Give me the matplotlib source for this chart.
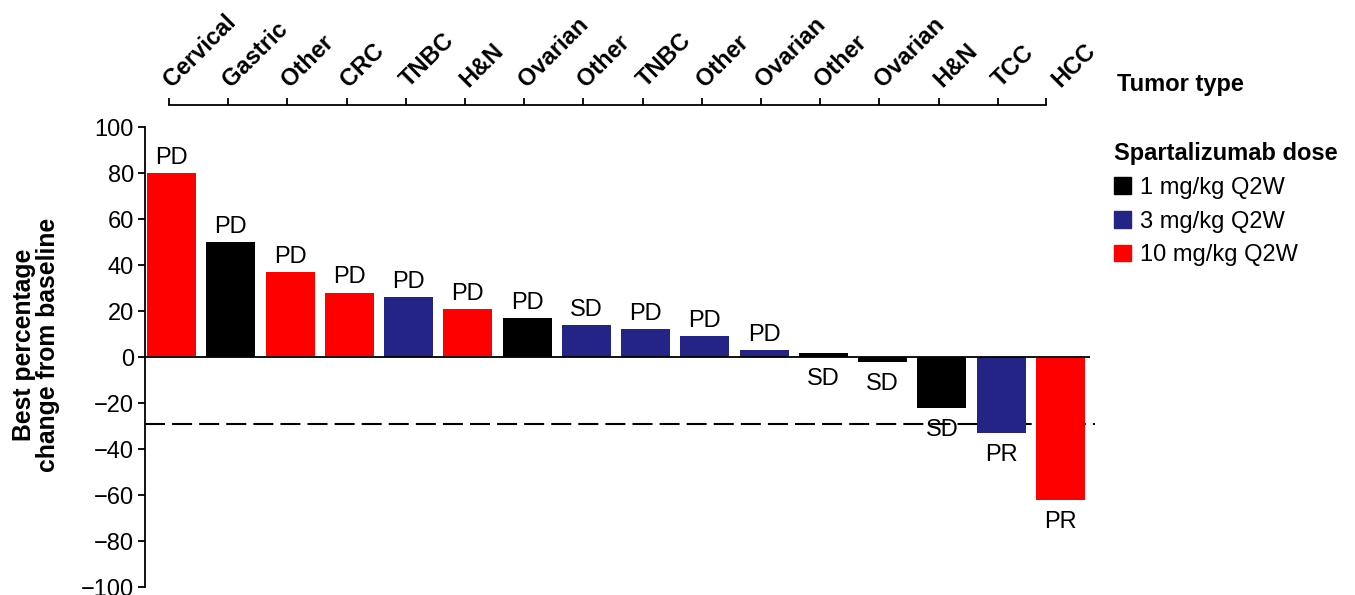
import matplotlib.pyplot as plt
from matplotlib.patches import Patch
from matplotlib.transforms import blended_transform_factory

plt.rcParams['font.family'] = ['Liberation Sans', 'DejaVu Sans']

tumors = ['Cervical', 'Gastric', 'Other', 'CRC', 'TNBC', 'H&N', 'Ovarian', 'Other',
          'TNBC', 'Other', 'Ovarian', 'Other', 'Ovarian', 'H&N', 'TCC', 'HCC']
change = [80, 50, 37, 28, 26, 21, 17, 14, 12, 9, 3, 1.7, -2.3, -22, -33, -62]
dose = ['10', '1', '10', '10', '3', '10', '1', '3', '3', '3', '3', '1', '1', '1', '3', '10']
response = ['PD', 'PD', 'PD', 'PD', 'PD', 'PD', 'PD', 'SD', 'PD', 'PD', 'PD', 'SD', 'SD', 'SD', 'PR', 'PR']
pr_threshold = -29

dose_colors = {'1': '#000000', '3': '#242487', '10': '#ff0000'}
dose_labels = {'1': '1 mg/kg Q2W', '3': '3 mg/kg Q2W', '10': '10 mg/kg Q2W'}

FS = 17

fig = plt.figure(figsize=(13.55, 5.95), dpi=100)
W, H = 1355, 595
ax = fig.add_axes([145 / W, 1 - 587 / H, (1090 - 145) / W, (587 - 127) / H])

x = list(range(len(change)))
ax.bar(x, change, width=0.83, color=[dose_colors[d] for d in dose], zorder=2)

for xi, v, r in zip(x, change, response):
    if v > 2.5:
        ax.annotate(r, (xi, v), xytext=(0, 3), textcoords='offset points',
                    ha='center', va='bottom', fontsize=FS)
    else:
        ax.annotate(r, (xi, min(v, 0)), xytext=(0, -8), textcoords='offset points',
                    ha='center', va='top', fontsize=FS)

ax.axhline(0, color='black', lw=1.3, zorder=3)
ax.axhline(pr_threshold, xmax=1.005, color='black', lw=1.5,
           linestyle=(0, (9.6, 3.4)), zorder=1, clip_on=False)

ax.set_xlim(-0.45, 15.5)
ax.set_ylim(-100, 100)
ax.set_yticks(range(-100, 101, 20))
ax.set_yticklabels([str(t).replace('-', '\u2212') for t in range(-100, 101, 20)])
ax.set_xticks([])
for s in ['top', 'right', 'bottom']:
    ax.spines[s].set_visible(False)
ax.spines['left'].set_linewidth(1.3)
ax.tick_params(axis='y', labelsize=FS, length=5, width=1.3, pad=3)
ax.set_ylabel('Best percentage\nchange from baseline', fontsize=17.8, fontweight='bold',
              linespacing=1.0)
ax.yaxis.set_label_coords(-0.09, 0.526)

# top axis with tumor types
x0, x1 = -0.042, 14.77
px0 = 171.5 + 59.2 * x0
px1 = 171.5 + 59.2 * x1
ax2 = fig.add_axes([px0 / W, 1 - 105 / H, (px1 - px0) / W, 0.001])
ax2.set_xlim(x0, x1)
ax2.set_ylim(0, 1)
for s in ['top', 'right', 'left']:
    ax2.spines[s].set_visible(False)
ax2.spines['bottom'].set_linewidth(1.3)
ax2.set_yticks([])
ax2.set_xticks([i + x0 for i in range(15)] + [x1])
ax2.set_xticklabels([])
ax2.tick_params(axis='x', direction='in', length=5, width=1.3)

trans = blended_transform_factory(ax.transData, fig.transFigure)
for xi, t in zip(x, tumors):
    ax.text(xi + 0.06, 1 - 92 / H, t, transform=trans, rotation=45,
            rotation_mode='anchor', ha='left', va='bottom',
            fontsize=FS, fontweight='bold', clip_on=False)

fig.text(1117 / W, 1 - 85 / H, 'Tumor type', fontsize=FS, fontweight='bold',
         ha='left', va='center')

handles = [Patch(color=dose_colors[d], label=dose_labels[d]) for d in ['1', '3', '10']]
leg = fig.legend(handles=handles, title='Spartalizumab dose', loc='upper left',
                 bbox_to_anchor=(1114 / W, 1 - 142 / H), frameon=False,
                 fontsize=FS, title_fontproperties={'weight': 'bold', 'size': FS},
                 handlelength=0.7, handleheight=0.7, handletextpad=0.4,
                 labelspacing=0.5, borderpad=0, borderaxespad=0, alignment='left')

fig.savefig('out.png', dpi=100)
